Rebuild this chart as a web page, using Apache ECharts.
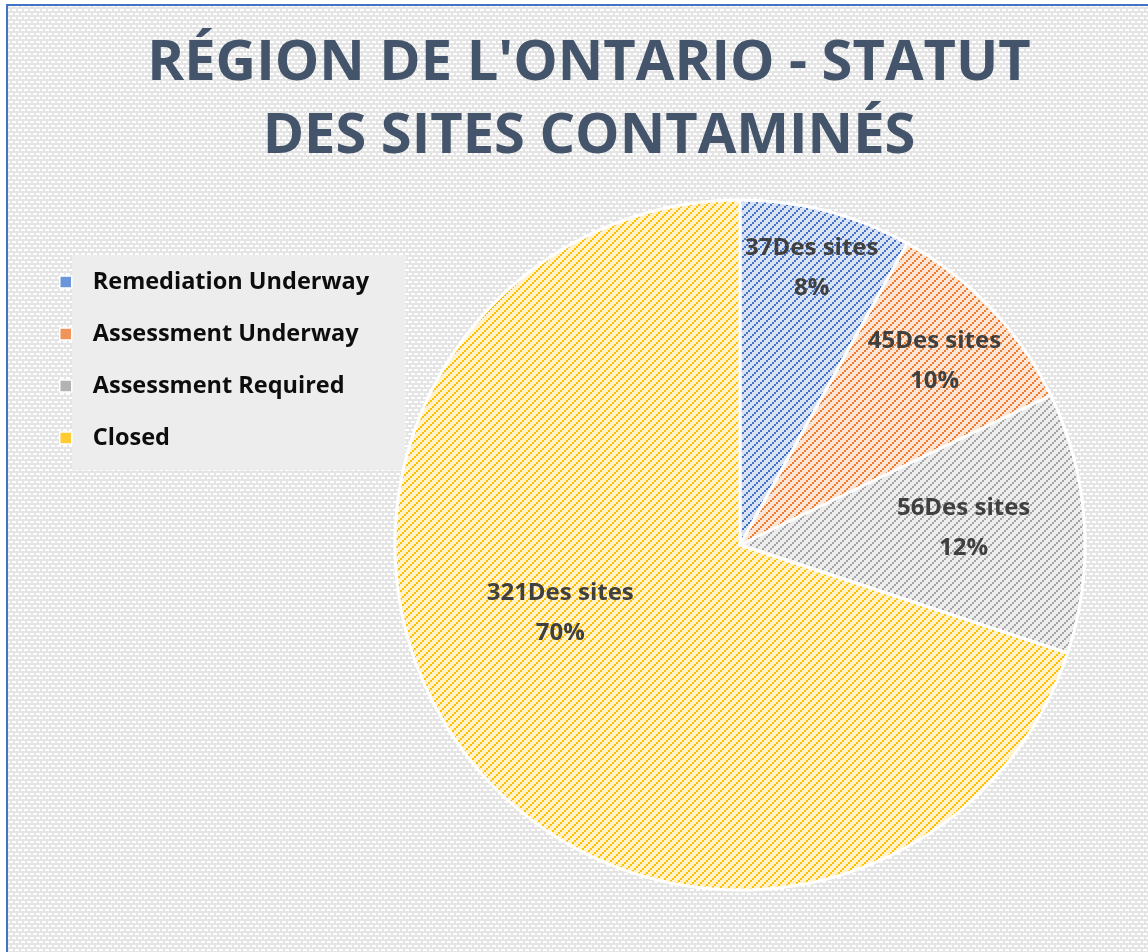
<!DOCTYPE html>
<html>
<head>
<meta charset="utf-8">
<script src="https://cdn.jsdelivr.net/npm/echarts@6/dist/echarts.min.js"></script>
<style>
  html, body { margin: 0; padding: 0; background: #fff; }
  #main { width: 1148px; height: 952px; }
</style>
</head>
<body>
<div id="main"></div>
<script>
// donnees
var categories = ['Remediation Underway', 'Assessment Underway', 'Assessment Required', 'Closed'];
var siteCounts = [37, 45, 56, 321];
var hatchFg = ['#4472C4', '#ED7D31', '#A5A5A5', '#FFC000'];
var hatchBg = ['#DAE3F3', '#FBE5D6', '#EDEDED', '#FFF2CC'];
var legendColors = ['#6A95D8', '#F0955A', '#B3B3B3', '#FFCB33'];

// position des etiquettes: fraction du rayon, decalage d'angle (deg)
var labelSpots = [[0.83, 0], [0.775, 0], [0.65, -0.7], [0.557, 15.2]];

var CX = 740, CY = 545, R = 345;

// hachures "/" type Excel
function makeHatch(fg, bg) {
    var c = document.createElement('canvas');
    c.width = 8; c.height = 8;
    var ctx = c.getContext('2d');
    ctx.fillStyle = bg;
    ctx.fillRect(0, 0, 8, 8);
    ctx.fillStyle = fg;
    for (var i = 0; i < 4; i++) {
        ctx.fillRect(2 * i, 6 - 2 * i, 2, 2);
    }
    return { image: c, repeat: 'repeat' };
}

// fond gris avec petites briques blanches
function makeBricks() {
    var c = document.createElement('canvas');
    c.width = 6; c.height = 8;
    var ctx = c.getContext('2d');
    ctx.fillStyle = '#E4E4E4';
    ctx.fillRect(0, 0, 6, 8);
    ctx.fillStyle = '#FFFFFF';
    ctx.fillRect(0, 1, 4, 2);
    ctx.fillRect(3, 5, 3, 2);
    ctx.fillRect(0, 5, 1, 2);
    return { image: c, repeat: 'repeat' };
}

var total = siteCounts.reduce(function (a, b) { return a + b; }, 0);
var midAngles = [];
var acc = 0;
siteCounts.forEach(function (v) {
    midAngles.push((acc + v / 2) / total * 360);
    acc += v;
});

var pieData = categories.map(function (name, i) {
    return {
        name: name,
        value: siteCounts[i],
        itemStyle: { color: makeHatch(hatchFg[i], hatchBg[i]) }
    };
});

var legendData = categories.map(function (name, i) {
    return { name: name, itemStyle: { color: legendColors[i] } };
});

var myChart = echarts.init(document.getElementById('main'));

var option = {
    backgroundColor: '#FFFFFF',
    animation: false,
    graphic: [
        {
            type: 'rect',
            z: -10,
            shape: { x: 7, y: 5, width: 1160, height: 1000 },
            style: { fill: makeBricks(), stroke: '#4472C4', lineWidth: 2 }
        },
        {
            type: 'rect',
            z: -5,
            shape: { x: 72, y: 255, width: 333, height: 215 },
            style: { fill: '#EDEDED' }
        }
    ],
    title: {
        text: "RÉGION DE L'ONTARIO - STATUT\nDES SITES CONTAMINÉS",
        left: 584,
        top: 23,
        textAlign: 'center',
        textStyle: {
            fontFamily: '"Open Sans", sans-serif',
            fontWeight: 'bold',
            fontSize: 56,
            lineHeight: 73,
            color: '#44546A'
        }
    },
    legend: {
        orient: 'vertical',
        left: 54,
        top: 262,
        icon: 'rect',
        itemWidth: 12,
        itemHeight: 12,
        itemGap: 22,
        itemStyle: { borderColor: '#FFFFFF', borderWidth: 1.5 },
        textStyle: {
            fontFamily: '"Open Sans", sans-serif',
            fontWeight: 'bold',
            fontSize: 23.5,
            lineHeight: 30,
            color: '#0D0D0D',
            padding: [0, 0, 0, 16]
        },
        data: legendData
    },
    series: [{
        type: 'pie',
        center: [CX, CY],
        radius: R,
        startAngle: 90,
        clockwise: true,
        percentPrecision: 0,
        itemStyle: { borderColor: '#FFFFFF', borderWidth: 3 },
        label: {
            show: true,
            position: 'inside',
            formatter: '{c}Des sites\n{d}%',
            fontFamily: '"Open Sans", sans-serif',
            fontWeight: 'bold',
            fontSize: 24,
            lineHeight: 40,
            color: '#404040',
            align: 'center'
        },
        labelLine: { show: false },
        emphasis: { disabled: true },
        labelLayout: function (params) {
            var i = params.dataIndex;
            var ang = (midAngles[i] + labelSpots[i][1]) * Math.PI / 180;
            var d = R * labelSpots[i][0];
            return {
                x: CX + d * Math.sin(ang),
                y: CY - d * Math.cos(ang),
                align: 'center',
                verticalAlign: 'middle'
            };
        },
        data: pieData
    }]
};

myChart.setOption(option);
</script>
</body>
</html>
